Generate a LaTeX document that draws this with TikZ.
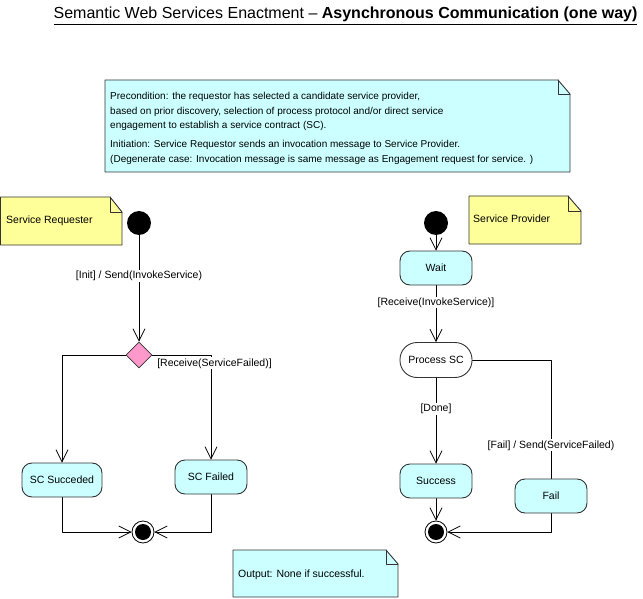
\documentclass[tikz,border=0pt]{standalone}
\usepackage{fontspec}
\setmainfont{Liberation Sans}
\usepackage{tikz}
\usetikzlibrary{arrows.meta}
\usetikzlibrary{shapes.geometric}
\usetikzlibrary{positioning}

\definecolor{notecyan}{HTML}{CCFFFF}
\definecolor{noteyellow}{HTML}{FFFF99}
\definecolor{decpink}{HTML}{FF99CC}
\definecolor{edgegray}{HTML}{333333}

\tikzset{
  state/.style={draw=edgegray,line width=0.9pt,fill=notecyan,rounded corners=10pt,
    minimum width=72pt,minimum height=34pt,inner sep=2pt,font=\fontsize{10.5}{12}\selectfont},
  initial/.style={circle,fill=black,minimum size=24pt,inner sep=0pt},
  final/.style={circle,draw=black,line width=0.8pt,fill=white,minimum size=22pt,inner sep=0pt,
    path picture={\fill[black] (path picture bounding box.center) circle (8pt);}},
  decision/.style={diamond,draw=edgegray,line width=0.8pt,fill=decpink,minimum width=26pt,
    minimum height=26pt,inner sep=0pt},
  guard/.style={fill=white,inner sep=1pt,font=\fontsize{10.5}{12}\selectfont},
  notebox/.style={draw=edgegray,line width=0.9pt},
  notetext/.style={inner sep=0pt,font=\fontsize{10.5}{12}\selectfont},
}

\begin{document}
\begin{tikzpicture}[x=1pt,y=-1pt,line cap=round,line join=round,>={Straight Barb[length=12pt,width=12pt]}]
% Draw region settings
\useasboundingbox (0,0) rectangle (643,599);
% Title
\node[anchor=base east,font=\fontsize{16}{18}\selectfont] (title) at (641,19)
  {\underline{Semantic Web Services Enactment -- \textbf{Asynchronous Communication (one way)}}};
% Notes
\draw[notebox,fill=notecyan] (105,80) -- (558,80) -- (570,94) -- (570,172) -- (105,172) -- cycle;
\draw[notebox] (558,80) -- (558,94) -- (570,94);
\node[notetext,anchor=north west,align=left,font=\fontsize{10}{14.6}\selectfont] (pretext) at (110,92)
  {Precondition: the requestor has selected a candidate service provider,\\
   based on prior discovery, selection of process protocol and/or direct service\\
   engagement to establish a service contract (SC).\\[4.2pt]
   Initiation: Service Requestor sends an invocation message to Service Provider.\\
   (Degenerate case: Invocation message is same message as Engagement request for service. )};
\draw[notebox,fill=noteyellow] (0.5,197) -- (110,197) -- (122,212) -- (122,245) -- (0.5,245) -- cycle;
\draw[notebox] (110,197) -- (110,212) -- (122,212);
\node[notetext,anchor=west] (reqtext) at (6,221) {Service Requester};
\draw[notebox,fill=noteyellow] (469,196) -- (568,196) -- (581,211) -- (581,244) -- (469,244) -- cycle;
\draw[notebox] (568,196) -- (568,211) -- (581,211);
\node[notetext,anchor=west] (provtext) at (473,219) {Service Provider};
\draw[notebox,fill=notecyan] (233,550) -- (386,550) -- (398,564) -- (398,597) -- (233,597) -- cycle;
\draw[notebox] (386,550) -- (386,564) -- (398,564);
\node[notetext,anchor=west] (outtext) at (238,575) {Output: None if successful.};
% Service requester
\node[initial] (reqstart) at (139,223) {};
\node[decision] (reqdec) at (139,355) {};
\node[state,minimum width=80pt] (scok) at (62,480) {SC Succeded};
\node[state] (scfail) at (211,477) {SC Failed};
\node[final] (reqend) at (143,532) {};
\draw[->,line width=0.8pt] (reqstart) -- node[guard,pos=0.38] {[Init] / Send(InvokeService)} (reqdec);
\draw[->,line width=0.8pt] (reqdec.west) -| (scok.north);
\draw[->,line width=0.8pt] (reqdec.east) -| node[guard,pos=0.03,anchor=north west,yshift=-2pt] {[Receive(ServiceFailed)]} (scfail.north);
\draw[->,line width=0.8pt] (scok.south) |- (reqend.west);
\draw[->,line width=0.8pt] (scfail.south) |- (reqend.east);
% Service provider
\node[initial] (provstart) at (436,223) {};
\node[state] (wait) at (436,268) {Wait};
\node[state,fill=white,rounded corners=17pt,minimum height=35pt] (process) at (436,360) {Process SC};
\node[state] (success) at (436,481) {Success};
\node[state] (fail) at (551,496) {Fail};
\node[final] (provend) at (436,532) {};
\draw[->,line width=0.8pt] (provstart) -- (wait);
\draw[->,line width=0.8pt] (wait) -- node[guard,pos=0.3] {[Receive(InvokeService)]} (process);
\draw[->,line width=0.8pt] (process) -- node[guard,pos=0.36] {[Done]} (success);
\draw[->,line width=0.8pt] (success) -- (provend);
\draw[line width=0.8pt] (process.east) -| node[guard,pos=0.86] {[Fail] / Send(ServiceFailed)} (fail.north);
\draw[->,line width=0.8pt] (fail.south) |- (provend.east);
\end{tikzpicture}
\end{document}
